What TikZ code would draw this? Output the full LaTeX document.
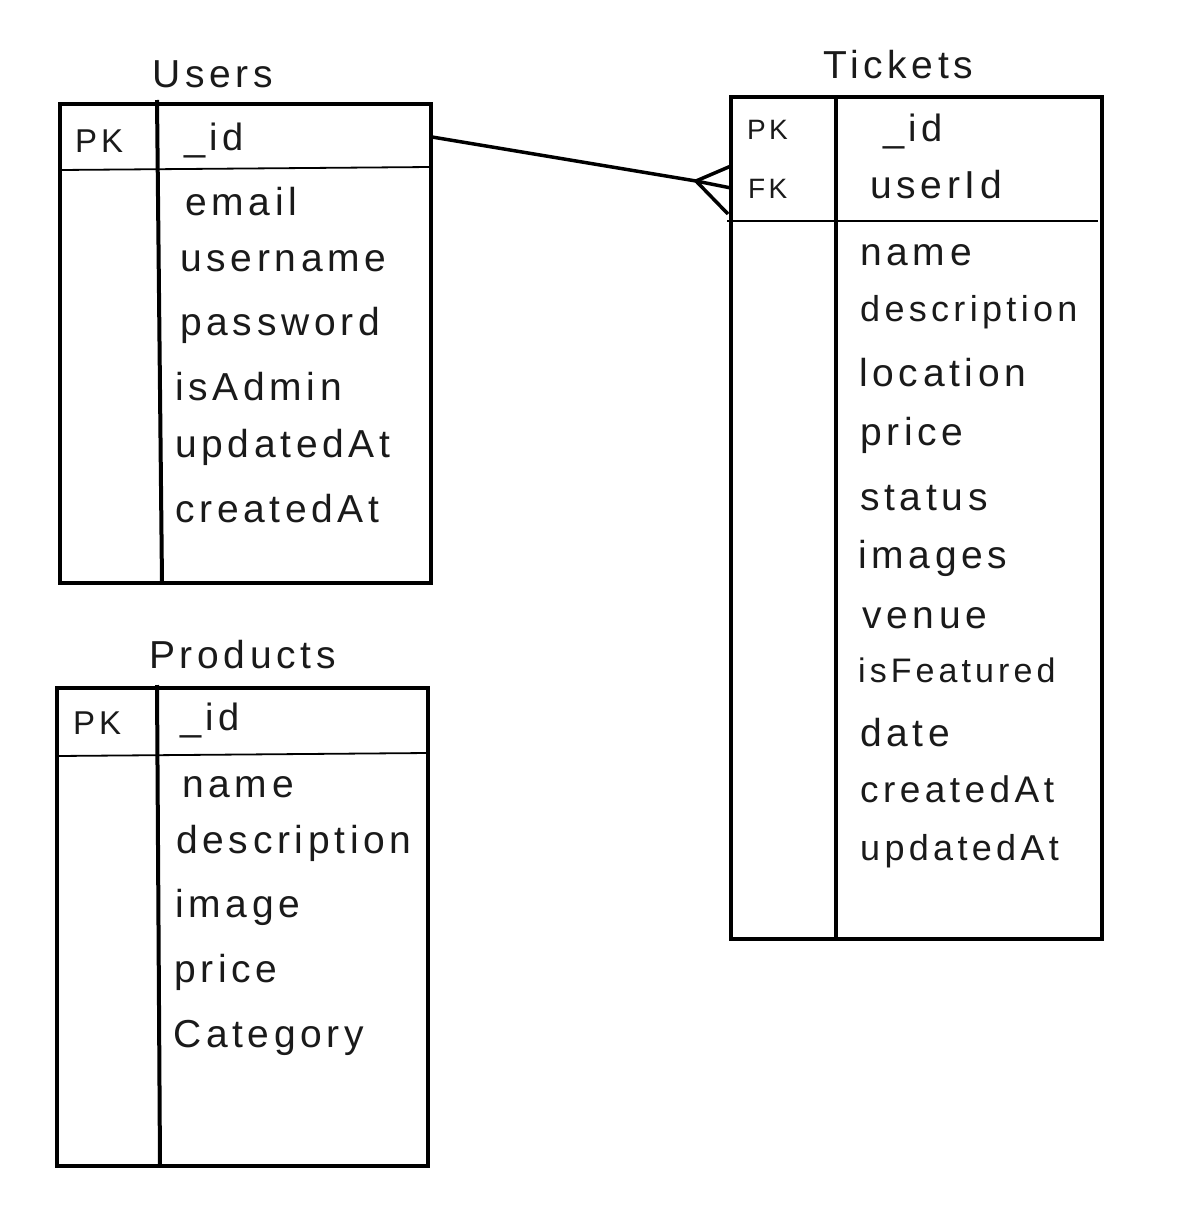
\documentclass[tikz,border=0pt]{standalone}
\usepackage{fontspec}
\newfontfamily\fa[LetterSpace=12]{Liberation Sans}
\definecolor{ink}{HTML}{1A1A1A}
\begin{document}
\begin{tikzpicture}[x=1pt,y=-1pt,
  tbl/.style={draw=black,line width=4pt,rectangle,inner sep=0pt},
  vdiv/.style={draw=black,line width=4pt},
  hdiv/.style={draw=black,line width=1.8pt},
  conn/.style={draw=black,line width=3.5pt},
  fld/.style={anchor=base west,inner sep=0pt,text=ink,font=\fa\fontsize{#1}{#1}\selectfont},
  fld/.default=39]
\fill[white] (0,0) rectangle (1200,1226);
\useasboundingbox (0,0) rectangle (1200,1226);

% ---------- Users ----------
\node[tbl,minimum width=371pt,minimum height=479pt] (users) at (245.5,343.5) {};
\draw[vdiv] (157,100) -- (162,583);
\draw[hdiv] (60,170) -- (431,167);
\node[fld] (usersT) at (152,87) {Users};
\node[fld=33] (uPK) at (75,152) {PK};
\node[fld=38] (uId) at (184,150) {\_id};
\node[fld] (uEmail) at (185,215) {email};
\node[fld] (uUser) at (180,271) {username};
\node[fld] (uPass) at (180,335) {password};
\node[fld] (uAdmin) at (175,400) {isAdmin};
\node[fld] (uUpd) at (175,457) {updatedAt};
\node[fld] (uCre) at (175,522) {createdAt};

% ---------- Products ----------
\node[tbl,minimum width=371pt,minimum height=478pt] (products) at (242.5,927) {};
\draw[vdiv] (157,685) -- (160,1166);
\draw[hdiv] (57,756) -- (428,753);
\node[fld] (productsT) at (149,668) {Products};
\node[fld=33] (pPK) at (73,734) {PK};
\node[fld=38] (pId) at (180,730) {\_id};
\node[fld] (pName) at (182,797) {name};
\node[fld] (pDesc) at (176,853) {description};
\node[fld] (pImg) at (175,917) {image};
\node[fld] (pPrice) at (174,982) {price};
\node[fld] (pCat) at (173,1047) {Category};

% ---------- Tickets ----------
\node[tbl,minimum width=371pt,minimum height=842pt] (tickets) at (916.5,518) {};
\draw[vdiv] (836,95) -- (836,939);
\draw[hdiv] (727,221) -- (1098,221);
\node[fld] (ticketsT) at (823,78) {Tickets};
\node[fld=28] (tPK) at (747,139) {PK};
\node[fld=28] (tFK) at (748,198) {FK};
\node[fld=38] (tId) at (883,141) {\_id};
\node[fld] (tUser) at (870,198) {userId};
\node[fld] (tName) at (860,265) {name};
\node[fld=36] (tDesc) at (860,321) {description};
\node[fld] (tLoc) at (859,386) {location};
\node[fld] (tPrice) at (860,445) {price};
\node[fld] (tStatus) at (860,510) {status};
\node[fld] (tImg) at (858,568) {images};
\node[fld] (tVenue) at (862,628) {venue};
\node[fld=34] (tFeat) at (858,682) {isFeatured};
\node[fld] (tDate) at (860,746) {date};
\node[fld=37] (tCre) at (860,802) {createdAt};
\node[fld=36] (tUpd) at (860,860) {updatedAt};

% ---------- relationship (one-to-many, crow's foot) ----------
\coordinate (uEnd) at (432,137);
\coordinate (cf) at (696,181);
\coordinate (cf1) at (731,166);
\coordinate (cf2) at (731,188);
\coordinate (cf3) at (728,214);
\draw[conn] (uEnd) -- (cf);
\draw[conn] (cf) -- (cf1);
\draw[conn] (cf) -- (cf2);
\draw[conn] (cf) -- (cf3);
\end{tikzpicture}
\end{document}
